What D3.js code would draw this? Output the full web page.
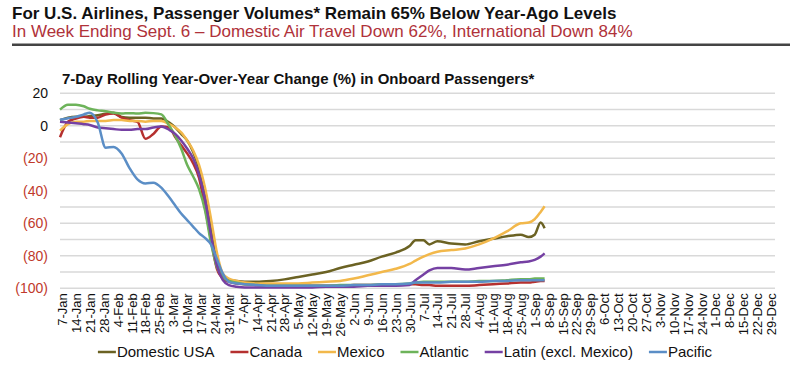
<!DOCTYPE html>
<html>
<head>
<meta charset="utf-8">
<script src="https://cdn.jsdelivr.net/npm/d3@7"></script>
<style>
  body { margin: 0; background: #fff; }
  svg { display: block; font-family: "Liberation Sans", Arial, sans-serif; }
</style>
</head>
<body>
<script>
// Dates of the sampled points (2020)
let dates = [
  '2020-01-06','2020-01-10','2020-01-14','2020-01-18','2020-01-21','2020-01-25','2020-01-29',
  '2020-02-02','2020-02-06','2020-02-10','2020-02-14','2020-02-18','2020-02-22','2020-02-26',
  '2020-03-01','2020-03-04','2020-03-07','2020-03-10','2020-03-13','2020-03-16','2020-03-19',
  '2020-03-22','2020-03-25','2020-03-28','2020-03-31',
  '2020-04-04','2020-04-08','2020-04-14','2020-04-21','2020-04-28',
  '2020-05-05','2020-05-12','2020-05-19','2020-05-26',
  '2020-06-02','2020-06-09','2020-06-16','2020-06-23','2020-06-30',
  '2020-07-03','2020-07-07','2020-07-10','2020-07-14','2020-07-21','2020-07-28',
  '2020-08-04','2020-08-11','2020-08-18','2020-08-25','2020-08-29',
  '2020-09-01','2020-09-04','2020-09-06'
];

let domesticUSA = [3.5, 5, 5.5, 5.5, 6, 6.5, 7.5,
  8, 5.5, 5, 5, 5, 4.5, 4.5,
  2, -1, -5, -9, -16, -26, -40, -62, -84, -92, -94.5,
  -95.5, -96, -96, -95.5, -94.5,
  -93, -91.5, -90, -87.5,
  -85.5, -83.5, -80.5, -78, -74,
  -70.5, -70.5, -73, -71, -72.5, -73,
  -71, -69.5, -68, -67, -68.5,
  -67, -59.5, -63];

let canada = [-7, 2.5, 4.5, 5.5, 5, 5, 7,
  7.5, 5, 3.5, 2.5, -8, -5, -0.5,
  -1, -7, -12, -17, -23, -32, -50, -70, -88, -94, -96,
  -97, -97.5, -98, -98.5, -98.5,
  -98.5, -98.5, -98.5, -98.5,
  -98, -98, -98, -98, -97.5,
  -97.5, -98, -98, -98.5, -98.5, -98.5,
  -98, -97.5, -97, -96.5, -96.5,
  -96, -95.5, -95.5];

let mexico = [-3, 1, 2.5, 2.5, 3, 3, 3,
  3.5, 3.5, 3, 3, 2.5, 3, 3,
  1, -1, -4, -9, -15, -24, -38, -57, -78, -91, -94,
  -95.5, -96.5, -97, -97, -97,
  -97, -96.5, -96, -95.5,
  -94, -92, -90, -88, -85,
  -83, -80.5, -79, -77.5, -76.5, -75.5,
  -73, -69.5, -65, -60, -59.5,
  -57.5, -53, -49.5];

let atlantic = [10, 13, 13, 12, 10.5, 9.5, 9,
  8, 7.5, 7.8, 7.5, 8, 7.8, 7,
  0, -6, -14, -24, -31, -39, -52, -72, -87, -93, -95.5,
  -96.5, -97.5, -98, -98.5, -98.5,
  -98.5, -98.5, -98.5, -98,
  -98, -98, -97.5, -97.5, -97,
  -96.5, -96, -96, -96, -96, -96,
  -95.5, -95.5, -95, -94.5, -94.5,
  -94, -94, -94];

let latin = [2.5, 2, 1.5, 1, 0.5, -1, -1.5,
  -2, -2.5, -2.5, -2, -2, -1, -0.5,
  -2.5, -5, -9, -14, -20, -30, -45, -67, -86, -95, -98,
  -99, -99.5, -99.5, -99.5, -99.5,
  -99.5, -99.5, -99, -99,
  -99, -98.5, -98.5, -98.5, -98,
  -95, -91.5, -89, -87.5, -87.5, -88.5,
  -87.5, -86.5, -85.5, -84, -83.5,
  -82.5, -80.5, -78.5];

let pacific = [3.7, 4.7, 5.5, 7, 8, 2, -13.5,
  -13, -17, -26, -33, -35.5, -35, -38,
  -44, -49, -54, -58, -62, -66, -69, -73, -82, -91, -96,
  -97, -97.5, -98, -98.5, -98.5,
  -98.5, -98.5, -98.5, -98.5,
  -98, -98, -97.5, -97.5, -97,
  -96.5, -96.5, -96.5, -96.5, -96, -96,
  -96, -95.5, -95.5, -95, -95,
  -95, -95, -95];

let seriesNames = ['Domestic USA', 'Canada', 'Mexico', 'Atlantic', 'Latin (excl. Mexico)', 'Pacific'];
let seriesValues = [domesticUSA, canada, mexico, atlantic, latin, pacific];
let colors = ['#6b6223', '#b5302f', '#f2b84b', '#6db35a', '#7540a3', '#5b8ec6'];

let yTicks = [20, 0, -20, -40, -60, -80, -100];
let gridValues = [20, 10, 0, -10, -20, -30, -40, -50, -60, -70, -80, -90, -100];

let title = 'For U.S. Airlines, Passenger Volumes* Remain 65% Below Year-Ago Levels';
let subtitle = 'In Week Ending Sept. 6 \u2013 Domestic Air Travel Down 62%, International Down 84%';
let chartTitle = '7-Day Rolling Year-Over-Year Change (%) in Onboard Passengers*';

// Create SVG
let width = 790, height = 374;
let margin = { top: 93.3, bottom: 85.7, left: 60, right: 15 };

let parse = d3.timeParse('%Y-%m-%d');
let fmt = d3.timeFormat('%-d-%b');

let svg = d3.select('body')
  .append('svg')
  .attr('width', width)
  .attr('height', height);

// Headers
svg.append('text')
  .attr('x', 12).attr('y', 19)
  .style('font-size', '17px').style('font-weight', 'bold').style('fill', '#111')
  .text(title);

svg.append('text')
  .attr('x', 12).attr('y', 36.5)
  .style('font-size', '17px').style('fill', '#b0323a')
  .text(subtitle);

svg.append('line')
  .attr('x1', 12).attr('x2', width)
  .attr('y1', 44.7).attr('y2', 44.7)
  .style('stroke', '#444').style('stroke-width', 2.5);

svg.append('text')
  .attr('x', 62).attr('y', 83.5)
  .style('font-size', '15px').style('font-weight', 'bold').style('fill', '#111')
  .text(chartTitle);

// Scales
let xScale = d3.scaleTime()
  .domain([parse('2020-01-06'), parse('2020-12-31')])
  .range([margin.left, width - margin.right]);

let yScale = d3.scaleLinear()
  .domain([-100, 20])
  .range([height - margin.bottom, margin.top]);

// Grid lines
svg.append('g')
  .selectAll('line')
  .data(gridValues)
  .enter()
  .append('line')
  .attr('x1', margin.left).attr('x2', width - margin.right)
  .attr('y1', d => yScale(d)).attr('y2', d => yScale(d))
  .style('stroke', '#d9d9d9').style('stroke-width', 1.5);

// Y axis
let yAxis = svg.append('g')
  .attr('transform', `translate(${margin.left},0)`)
  .call(d3.axisLeft(yScale)
    .tickValues(yTicks)
    .tickSize(0)
    .tickPadding(12)
    .tickFormat(d => d < 0 ? `(${-d})` : d));
yAxis.select('.domain').remove();
yAxis.selectAll('text')
  .style('font-size', '14px')
  .style('font-family', '"Liberation Sans", Arial, sans-serif')
  .style('fill', d => d < 0 ? '#c0392b' : '#111');

// X axis (weekly labels)
let xTickDates = d3.timeTuesday.range(parse('2020-01-07'), parse('2020-12-31'));
let xAxis = svg.append('g')
  .attr('transform', `translate(0, ${height - margin.bottom})`)
  .call(d3.axisBottom(xScale)
    .tickValues(xTickDates)
    .tickSize(0)
    .tickFormat(fmt));
xAxis.select('.domain').remove();
xAxis.selectAll('text')
  .attr('transform', 'rotate(-90)')
  .attr('text-anchor', 'end')
  .attr('x', -5)
  .attr('y', 0)
  .attr('dy', '0.35em')
  .style('font-size', '13px')
  .style('font-family', '"Liberation Sans", Arial, sans-serif')
  .style('fill', '#111');

// Lines
let line = d3.line()
  .x((d, i) => xScale(parse(dates[i])))
  .y(d => yScale(d))
  .curve(d3.curveMonotoneX);

svg.append('g')
  .selectAll('path')
  .data(seriesValues)
  .enter()
  .append('path')
  .attr('d', d => line(d))
  .style('fill', 'none')
  .style('stroke', (d, i) => colors[i])
  .style('stroke-width', 2.5)
  .style('stroke-linejoin', 'round');

// Legend
let legend = svg.append('g');
let lx = 0;
seriesNames.forEach((name, i) => {
  let item = legend.append('g').attr('transform', `translate(${lx},0)`);
  item.append('line')
    .attr('x1', 0).attr('x2', 18)
    .attr('y1', 0).attr('y2', 0)
    .style('stroke', colors[i]).style('stroke-width', 2.5);
  let t = item.append('text')
    .attr('x', 19).attr('y', 0).attr('dy', '0.35em')
    .style('font-size', '15px').style('fill', '#111')
    .text(name);
  lx += 19 + t.node().getComputedTextLength() + 16;
});
lx -= 16;
legend.attr('transform', `translate(${405 - lx / 2}, 352)`);
</script>
</body>
</html>
